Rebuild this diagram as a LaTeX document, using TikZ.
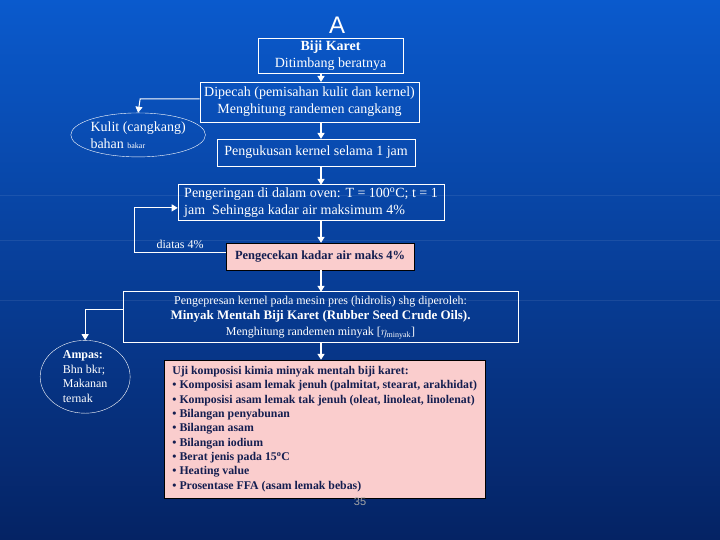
\documentclass[tikz,border=0pt]{standalone}
\usepackage{fontspec}
\setmainfont{Liberation Serif}
\newfontfamily\sansA{Liberation Sans}
\usetikzlibrary{shapes.geometric,arrows.meta}
\definecolor{bgtop}{RGB}{10,90,205}
\definecolor{bgbot}{RGB}{5,35,100}
\definecolor{boxpink}{RGB}{250,205,205}
\definecolor{navy}{RGB}{20,30,80}
\tikzset{
  step box/.style={draw=white,thick,text=white,align=center,inner sep=1pt,
    font=\fontsize{14}{17}\selectfont},
  pink box/.style={draw=black,fill=boxpink,text=navy,font=\bfseries\fontsize{12.5}{15}\selectfont},
  side oval/.style={ellipse,draw=white,thin,text=white,align=left,inner sep=0pt},
  flow/.style={-{Triangle[length=6pt,width=7pt]},white,line width=1.8pt}
}
\begin{document}
\begin{tikzpicture}[x=1pt,y=-1pt]
  \shade[top color=bgtop,bottom color=bgbot] (0,0) rectangle (720,540);
  \foreach \y in {195,240,300} \draw[white,opacity=.08] (0,\y) -- (720,\y);
  \useasboundingbox (0,0) rectangle (720,540);

  \node[text=white,font=\sansA\fontsize{24}{24}\selectfont] (A) at (337,25) {A};
  \node[step box,minimum width=145,minimum height=35] (biji) at (330.5,55.5)
    {\textbf{Biji Karet}\\Ditimbang beratnya};
  \node[step box,minimum width=219,minimum height=40] (pecah) at (309.5,102)
    {Dipecah (pemisahan kulit dan kernel)\\Menghitung randemen cangkang};
  \node[side oval,minimum width=114,minimum height=44,font=\fontsize{14}{17}\selectfont] (kulit) at (138,135)
    {Kulit (cangkang)\\bahan {\footnotesize bakar}};
  \node[step box,minimum width=198,minimum height=27] (kukus) at (316,152.5)
    {Pengukusan kernel selama 1 jam};
  \node[step box,minimum width=266,minimum height=36,align=left] (kering) at (311,203)
    {Pengeringan di dalam oven: T = 100\textsuperscript{o}C; t = 1\\jam\ \ Sehingga kadar air maksimum 4\%};
  \node[pink box,minimum width=188,minimum height=27] (cek) at (320,256.5)
    {Pengecekan kadar air maks 4\%};
  \node[step box,minimum width=395,minimum height=51,font=\fontsize{12}{15.5}\selectfont] (pres) at (320.5,317.5)
    {Pengepresan kernel pada mesin pres (hidrolis) shg diperoleh:\\
     {\bfseries\fontsize{13}{15.5}\selectfont Minyak Mentah Biji Karet (Rubber Seed Crude Oils).}\\
     Menghitung randemen minyak [$\eta_{\mathrm{minyak}}$]};
  \node[side oval,minimum width=90,minimum height=64,font=\fontsize{12}{14.5}\selectfont] (ampas) at (85,377)
    {\textbf{Ampas:}\\Bhn bkr;\\Makanan\\ternak};
  \node[pink box,minimum width=321,minimum height=138,align=left,anchor=north west,
    inner sep=4pt,font=\bfseries\fontsize{11.8}{14.4}\selectfont] (uji) at (164,360)
    {Uji komposisi kimia minyak mentah biji karet:\\
     \textbullet\ Komposisi asam lemak jenuh (palmitat, stearat, arakhidat)\\
     \textbullet\ Komposisi asam lemak tak jenuh (oleat, linoleat, linolenat)\\
     \textbullet\ Bilangan penyabunan\\
     \textbullet\ Bilangan asam\\
     \textbullet\ Bilangan iodium\\
     \textbullet\ Berat jenis pada 15\textsuperscript{o}C\\
     \textbullet\ Heating value\\
     \textbullet\ Prosentase FFA (asam lemak bebas)};
  \node[text=gray!70,font=\sansA\fontsize{11}{11}\selectfont] (hal) at (360,502) {35};
  \node[text=white,font=\fontsize{12}{12}\selectfont] (diatas) at (180,245) {diatas 4\%};

  \coordinate (k1) at (140,99);
  \coordinate (r1) at (134,253);
  \coordinate (r2) at (134,208);
  \coordinate (a1) at (85,310);

  \draw[flow] (321,73) -- (321,82);
  \draw[flow] (321,122) -- (321,139);
  \draw[flow] (321,166) -- (321,185);
  \draw[flow] (321,221) -- (321,243);
  \draw[flow] (321,270) -- (321,292);
  \draw[flow] (321,343) -- (321,360);
  \draw[flow,line width=1pt] (pecah.west |- k1) -- (k1) -- (kulit.north);
  \draw[flow,line width=1pt] (cek.west |- r1) -- (r1) -- (r2) -- (kering.west |- r2);
  \draw[flow,line width=1pt] (pres.west |- a1) -- (a1) -- (ampas.north);
\end{tikzpicture}
\end{document}
